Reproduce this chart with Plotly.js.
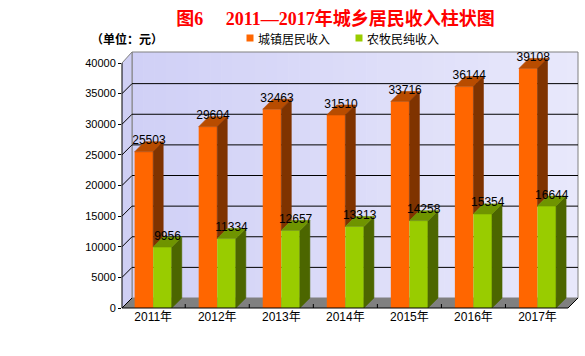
<!DOCTYPE html>
<html>
<head>
<meta charset="utf-8">
<script src="https://cdn.plot.ly/plotly-3.0.1.min.js"></script>
<style>html,body{margin:0;padding:0;background:#fff;}#chart{width:585px;height:356px;}</style>
</head>
<body>
<div id="chart"></div>
<script>
// ---- data ----
const categories = ['2011年', '2012年', '2013年', '2014年', '2015年', '2016年', '2017年'];
const urbanIncome = [25503, 29604, 32463, 31510, 33716, 36144, 39108];
const ruralIncome = [9956, 11334, 12657, 13313, 14258, 15354, 16644];
const seriesNames = ['城镇居民收入', '农牧民纯收入'];
const yTickValues = [0, 5000, 10000, 15000, 20000, 25000, 30000, 35000, 40000];
const titleText = '<b>图6　 2011—2017年城乡居民收入柱状图</b>';
const unitText = '<b>（单位：元）</b>';

// ---- geometry (pixels) ----
const W = 585, H = 356;
const FX0 = 122, FX1 = 578;      // front subplot x extent
const FY0 = 308, FTOP = 52;      // front zero line, top of drawing
const CAT0 = 153.2, PXCAT = 64.05;
const PXVAL = 245 / 40000;
const DEPTH = 10;
const BW = 0.29;
const dx = DEPTH / PXCAT, dy = DEPTH / PXVAL;
const xr0 = (FX0 - CAT0) / PXCAT, xr1 = (FX1 - CAT0) / PXCAT;
const yTop = (FY0 - FTOP) / PXVAL;
const px = x => x / W, py = y => 1 - y / H;
const yf = v => FY0 - v * PXVAL;

const C = {
  oFront: '#FF6600', oTop: '#B84C00', oSide: '#7F3300',
  gFront: '#99CC00', gTop: '#6F9400', gSide: '#4C6600'
};

const xs = categories.map((c, i) => i);

function topFaces(vals, left) {
  const X = [], Y = [];
  vals.forEach((v, i) => {
    const xl = i + left, xr = xl + BW;
    X.push(xl, xr, xr + dx, xl + dx, xl, null);
    Y.push(v, v, v + dy, v + dy, v, null);
  });
  return {X, Y};
}
function sideFaces(vals, left, lowVals) {
  const X = [], Y = [];
  vals.forEach((v, i) => {
    const xr = i + left + BW;
    const lo = lowVals ? lowVals[i] : 0;
    X.push(xr, xr, xr + dx, xr + dx, xr, null);
    Y.push(lo, v, v + dy, lo + dy, lo, null);
  });
  return {X, Y};
}
function poly(f, color, name) {
  return {type: 'scatter', mode: 'lines', x: f.X, y: f.Y, fill: 'toself',
    fillcolor: color, line: {width: 0.6, color: color},
    hoverinfo: 'skip', showlegend: false, name: name};
}

const oTop = topFaces(urbanIncome, -BW), oSide = sideFaces(urbanIncome, -BW, ruralIncome);
const gTop = topFaces(ruralIncome, 0), gSide = sideFaces(ruralIncome, 0, null);

const labelFont = {family: 'Liberation Sans, Arial, sans-serif', size: 12, color: '#000'};
const traces = [
  {type: 'bar', name: seriesNames[0], x: xs, y: urbanIncome, width: BW, offset: -BW,
    marker: {color: C.oFront, line: {width: 0}}, showlegend: false},
  {type: 'bar', name: seriesNames[1], x: xs, y: ruralIncome, width: BW, offset: 0,
    marker: {color: C.gFront, line: {width: 0}}, showlegend: false},
  poly(oTop, C.oTop, seriesNames[0] + ' top'),
  poly(oSide, C.oSide, seriesNames[0] + ' side'),
  poly(gSide, C.gSide, seriesNames[1] + ' side'),
  poly(gTop, C.gTop, seriesNames[1] + ' top'),
  {type: 'scatter', mode: 'text', x: xs.map(i => i - BW / 2 + dx / 2), y: urbanIncome.map(v => v + dy * 1.05),
    text: urbanIncome.map(String), textposition: 'middle center', cliponaxis: false,
    textfont: labelFont, hoverinfo: 'skip', showlegend: false},
  {type: 'scatter', mode: 'text', x: xs.map(i => BW / 2 + i + dx / 2), y: ruralIncome.map(v => v + dy * 1.05),
    text: ruralIncome.map(String), textposition: 'middle center', cliponaxis: false,
    textfont: labelFont, hoverinfo: 'skip', showlegend: false}
];

// ---- decorative frame ----
const P = pts => 'M' + pts.map(p => px(p[0]).toFixed(5) + ',' + py(p[1]).toFixed(5)).join('L') + 'Z';
const shapes = [];
// back wall with a left-to-right light gradient
const NSTRIP = 40, WL = 132, WR = 578;
const c0 = [208, 208, 246], c1 = [232, 232, 251];
for (let k = 0; k < NSTRIP; k++) {
  const t = k / (NSTRIP - 1);
  const col = 'rgb(' + c0.map((c, j) => Math.round(c + (c1[j] - c) * t)).join(',') + ')';
  const xa = WL + (WR - WL) * k / NSTRIP, xb = WL + (WR - WL) * (k + 1) / NSTRIP + 0.6;
  shapes.push({type: 'rect', xref: 'paper', yref: 'paper', x0: px(xa), x1: px(Math.min(xb, WR)),
    y0: py(298), y1: py(52), fillcolor: col, line: {width: 0}, layer: 'below'});
}
shapes.push(
  {type: 'rect', xref: 'paper', yref: 'paper', x0: px(132), x1: px(578), y0: py(298), y1: py(52),
    fillcolor: 'rgba(0,0,0,0)', line: {color: '#808080', width: 1}, layer: 'below'},
  {type: 'path', xref: 'paper', yref: 'paper', path: P([[122, 308], [122, 63], [132, 52], [132, 298]]),
    fillcolor: '#CFCFF4', line: {width: 0}, layer: 'below'},
  {type: 'line', xref: 'paper', yref: 'paper', x0: px(132), x1: px(132), y0: py(298), y1: py(52),
    line: {color: '#808080', width: 1}, layer: 'below'}
);
// back-wall gridlines
yTickValues.forEach(v => {
  if (v === 0 || v === 40000) return;
  const y = yf(v) - DEPTH;
  shapes.push({type: 'line', xref: 'paper', yref: 'paper', x0: px(132), x1: px(578), y0: py(y), y1: py(y),
    line: {color: '#000', width: 1}, layer: 'below'});
});
shapes.push(
  {type: 'path', xref: 'paper', yref: 'paper', path: P([[122, 308], [568, 308], [578, 298], [132, 298]]),
    fillcolor: '#808080', line: {width: 0}, layer: 'below'},
  {type: 'line', xref: 'paper', yref: 'paper', x0: px(122), x1: px(132), y0: py(63), y1: py(52),
    line: {color: '#808080', width: 1}, layer: 'above'},
  {type: 'line', xref: 'paper', yref: 'paper', x0: px(122), x1: px(122), y0: py(308), y1: py(yf(40000)),
    line: {color: '#000', width: 1}, layer: 'above'},
  {type: 'line', xref: 'paper', yref: 'paper', x0: px(122), x1: px(568), y0: py(308), y1: py(308),
    line: {color: '#000', width: 1}, layer: 'above'},
  {type: 'line', xref: 'paper', yref: 'paper', x0: px(568), x1: px(578), y0: py(308), y1: py(298),
    line: {color: '#000', width: 1}, layer: 'above'},
  // legend squares
  {type: 'rect', xref: 'paper', yref: 'paper', x0: px(246.5), x1: px(253.5), y0: py(41.5), y1: py(34.5),
    fillcolor: C.oFront, line: {width: 0}},
  {type: 'rect', xref: 'paper', yref: 'paper', x0: px(355.5), x1: px(362.5), y0: py(41.5), y1: py(34.5),
    fillcolor: C.gFront, line: {width: 0}}
);
// diagonal tick connectors on the side wall
yTickValues.forEach(v => {
  if (v === 40000) return;
  shapes.push({type: 'line', xref: 'paper', yref: 'paper', x0: px(122), x1: px(132),
    y0: py(yf(v)), y1: py(yf(v) - DEPTH), line: {color: '#000', width: 1}, layer: 'above'});
});
// category boundary ticks
categories.slice(1).forEach((c, i) => {
  shapes.push({type: 'line', xref: 'x', yref: 'paper', x0: i + 0.5, x1: i + 0.5,
    y0: py(308), y1: py(304), line: {color: '#000', width: 1}, layer: 'above'});
});

const annotations = [
  {text: unitText, xref: 'paper', yref: 'paper', x: px(126.5), y: py(38), xanchor: 'center', yanchor: 'middle',
    showarrow: false, font: {family: 'Noto Sans CJK SC', size: 12, color: '#000'}},
  {text: seriesNames[0], xref: 'paper', yref: 'paper', x: px(256), y: py(38), xanchor: 'left', yanchor: 'middle',
    showarrow: false, font: {family: 'Noto Sans CJK SC', size: 12, color: '#000'}},
  {text: seriesNames[1], xref: 'paper', yref: 'paper', x: px(365), y: py(38), xanchor: 'left', yanchor: 'middle',
    showarrow: false, font: {family: 'Noto Sans CJK SC', size: 12, color: '#000'}}
];

const layout = {
  width: W, height: H,
  margin: {l: 0, r: 0, t: 0, b: 0},
  paper_bgcolor: '#FFFFFF', plot_bgcolor: 'rgba(0,0,0,0)',
  showlegend: false, barmode: 'overlay',
  title: {text: titleText, x: px(335.5), xanchor: 'center', y: py(18.5), yanchor: 'middle',
    font: {family: 'Liberation Serif, Noto Sans CJK SC, serif', size: 18, color: '#FF0000'}},
  xaxis: {domain: [px(FX0), px(FX1)], range: [xr0, xr1], tickvals: xs, ticktext: categories,
    ticks: '', showgrid: false, zeroline: false, showline: false,
    tickfont: {family: 'Liberation Sans, Noto Sans CJK SC, sans-serif', size: 12, color: '#000'}, fixedrange: true},
  yaxis: {domain: [py(FY0), py(FTOP)], range: [0, yTop], tickvals: yTickValues,
    ticktext: yTickValues.map(String), ticks: 'outside', ticklen: 3, tickcolor: '#000',
    showgrid: false, zeroline: false, showline: false,
    tickfont: {family: 'Liberation Sans, Arial, sans-serif', size: 11, color: '#000'}, fixedrange: true},
  shapes: shapes,
  annotations: annotations
};

Plotly.newPlot('chart', traces, layout, {staticPlot: true, displayModeBar: false});
</script>
</body>
</html>
